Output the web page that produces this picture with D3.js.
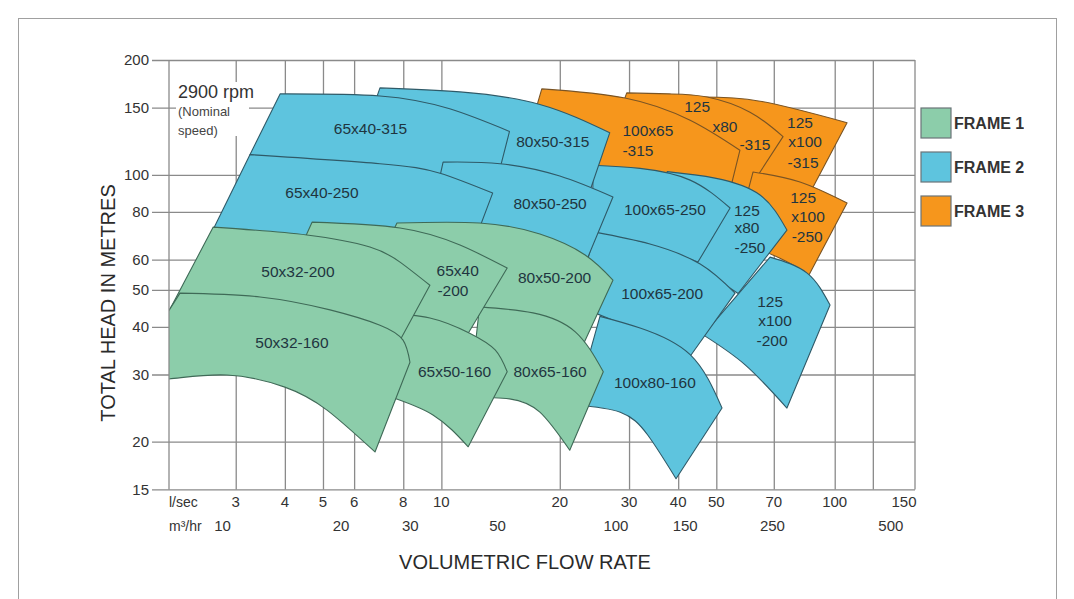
<!DOCTYPE html>
<html>
<head>
<meta charset="utf-8">
<script src="https://cdn.jsdelivr.net/npm/d3@7"></script>
<style>
  body { margin: 0; background: #fff; }
  svg { display: block; font-family: "Liberation Sans", Arial, sans-serif; }
</style>
</head>
<body>
<svg id="chart"></svg>
<script>
// flow in l/sec, head in metres
var headTicks = [15, 20, 30, 40, 50, 60, 80, 100, 150, 200];
var lsecTicks = [3, 4, 5, 6, 8, 10, 20, 30, 40, 50, 70, 100, 150];
var lsecGrid = [3, 4, 5, 6, 8, 10, 20, 30, 40, 50, 70, 100, 125];
var m3hrTicks = [10, 20, 30, 50, 100, 150, 250, 500];
var frameNames = ["FRAME 1", "FRAME 2", "FRAME 3"];
var frameFills = ["#8ccdaa", "#5ec4de", "#f6961c"];
var frameStrokes = ["#3f6a57", "#2f5a68", "#7a5424"];

// each pump: top and bottom curve, [l/sec, m], left to right; label lines [text, l/sec, m]
// listed in drawing order (later ones sit on top)
var frame3Pumps = [
  {name: "125x100-315",
   top: [[45.5, 160], [64.6, 156], [107.5, 137]],
   bottom: [[51.1, 103], [68.5, 98.1], [88.1, 93]],
   label: [["125", 81.6, 137], ["x100", 84.1, 122], ["-315", 83.1, 108]]},
  {name: "125x80-315",
   top: [[29.6, 164], [38.1, 163], [47.4, 160], [60.9, 146], [73.9, 126]],
   bottom: [[25.3, 106], [40.4, 94.1], [59.2, 88.6]],
   label: [["125", 44.7, 151], ["x80", 52.6, 134], ["-315", 62.7, 120]]},
  {name: "100x65-315",
   top: [[18, 168], [29.3, 159], [42.9, 139], [57.4, 116]],
   bottom: [[15.8, 106], [25.3, 94.1], [54.2, 91.3]],
   label: [["100x65", 33.5, 131], ["-315", 31.6, 116]]},
  {name: "125x100-250",
   top: [[62, 101.8], [81.6, 95.8], [107.5, 84.4]],
   bottom: [[55.8, 67.5], [72.6, 60.5], [86, 54.7]],
   label: [["125", 83.1, 87], ["x100", 85.5, 77.6], ["-250", 85.1, 69.1]]}
];

var frame2Pumps = [
  {name: "125x100-200",
   top: [[68.5, 60.9], [85.1, 55.3], [97.3, 45.6]],
   bottom: [[46.3, 38.1], [59.2, 31.8], [75.6, 24.5]],
   label: [["125", 68.5, 46.5], ["x100", 70.5, 41.5], ["-200", 69.3, 36.9]]},
  {name: "125x80-250",
   top: [[37.5, 102], [49.6, 98.1], [64.6, 88.6], [75.6, 71.7]],
   bottom: [[33.9, 63.5], [45.5, 56.3], [56.8, 48.9]],
   label: [["125", 59.8, 80.9], ["x80", 59.8, 72.6], ["-250", 60.9, 64.7]]},
  {name: "100x65-250",
   top: [[24.3, 106], [32, 104], [42.9, 96.9], [54.2, 81.9]],
   bottom: [[24.2, 69.6], [32, 66.7], [44.9, 59.1]],
   label: [["100x65-250", 37, 81]]},
  {name: "100x65-200",
   top: [[24.6, 70.8], [33.9, 65.9], [45.5, 58.4], [55.8, 49.0]],
   bottom: [[21.9, 45.6], [32, 38.8], [42.9, 33.5]],
   label: [["100x65-200", 36.4, 49]]},
  {name: "100x80-160",
   top: [[25.3, 42.6], [32, 39.7], [42.9, 33.8], [51.7, 24.5]],
   bottom: [[21.9, 25], [28.5, 23.9], [33.5, 20.8], [39.5, 16]],
   label: [["100x80-160", 34.9, 28.5]]},
  {name: "80x50-315",
   top: [[6.98, 169], [11.15, 165], [17.8, 153], [26.8, 129]],
   bottom: [[6.03, 109.4], [12.5, 101.8], [23.9, 91.3]],
   label: [["80x50-315", 19.2, 122]]},
  {name: "65x40-315",
   top: [[3.89, 163], [6.98, 161], [10.5, 149], [14.9, 130]],
   bottom: [[3.26, 113], [6.98, 101.8], [13.85, 96.9]],
   label: [["65x40-315", 6.6, 132]]},
  {name: "80x50-250",
   top: [[10.1, 108], [14.1, 107], [20, 99.3], [27.3, 87.5]],
   bottom: [[9.08, 65.5], [14.9, 63.5], [23.3, 59.1]],
   label: [["80x50-250", 18.9, 84]]},
  {name: "65x40-250",
   top: [[3.26, 113], [6.98, 107], [9.92, 101], [13.5, 89.6]],
   bottom: [[2.55, 67.5], [5.52, 63.5], [11.9, 63.5]],
   label: [["65x40-250", 4.97, 90]]}
];

var frame1Pumps = [
  {name: "80x50-200",
   top: [[7.71, 74.8], [12.5, 74.8], [17.8, 70], [23.2, 61.7], [27.3, 53]],
   bottom: [[6.21, 47], [16.8, 43], [22.9, 35.8]],
   label: [["80x50-200", 19.4, 54]]},
  {name: "80x65-160",
   top: [[12.5, 45.1], [17.1, 43.5], [21.9, 38.8], [25.8, 30.5]],
   bottom: [[11.8, 26.2], [14.9, 25.9], [17.8, 23.9], [21.2, 19]],
   label: [["80x65-160", 18.9, 30.5]]},
  {name: "65x40-200",
   top: [[4.69, 75.2], [7.85, 72.6], [11.15, 65.5], [14.7, 57]],
   bottom: [[3.62, 41.7], [7.85, 41.2], [11.6, 37.9]],
   label: [["65x40", 11.0, 56.3], ["-200", 10.7, 49.9]]},
  {name: "65x50-160",
   top: [[6.98, 43.5], [9.35, 42.2], [11.8, 38.5], [13.7, 34.8], [14.7, 30.5]],
   bottom: [[7.19, 26.5], [9.52, 23.5], [11.7, 19.4]],
   label: [["65x50-160", 10.8, 30.5]]},
  {name: "50x32-200",
   top: [[2.63, 73], [4.55, 69.6], [6.58, 64.7], [7.85, 59.1], [9.35, 51.4]],
   bottom: [[2.03, 44.0], [4.12, 43.7], [7.85, 36.9]],
   label: [["50x32-200", 4.32, 55.7]]},
  {name: "50x32-160",
   top: [[2.165, 49], [3.46, 47.9], [5.21, 44.3], [6.98, 40.4], [7.99, 36.9], [8.32, 32.3]],
   bottom: [[1.56, 28.9], [2.03, 29.2], [2.85, 29.9], [4.0, 27.8], [5.12, 24.2], [6.78, 18.8]],
   label: [["50x32-160", 4.17, 36.3]]}
];

var w = 1074, h = 599;
var plotL = 169, plotR = 915, plotT = 60, plotB = 489.4;

var svg = d3.select("#chart")
  .attr("width", w)
  .attr("height", h);

// outer frame of the picture
svg.append("rect")
  .attr("x", 18.5).attr("y", 18.5)
  .attr("width", 1038).attr("height", 640)
  .attr("fill", "none")
  .attr("stroke", "#a0a0a0");

var x = d3.scaleLog().domain([2.03, 160]).range([plotL, plotR]);
var y = d3.scaleLog().domain([15, 200]).range([plotB, plotT]);

// horizontal grid + head labels
var gy = svg.append("g")
  .attr("transform", "translate(" + plotR + ",0)")
  .call(d3.axisLeft(y)
    .tickValues(headTicks)
    .tickFormat(d3.format("d"))
    .tickSize(plotR - 152)
    .tickPadding(3));
gy.select(".domain").remove();
gy.attr("font-family", null).attr("font-size", null);
gy.selectAll("line").attr("stroke", "#8a8a8a").attr("stroke-width", 1.3);
gy.selectAll("text").attr("font-size", 15).attr("fill", "#333");

// vertical grid
var gx = svg.append("g")
  .attr("transform", "translate(0," + plotT + ")")
  .call(d3.axisBottom(x)
    .tickValues(lsecGrid)
    .tickSize(plotB - plotT)
    .tickFormat(""));
gx.select(".domain").remove();
gx.selectAll("line").attr("stroke", "#8a8a8a").attr("stroke-width", 1.3);

svg.append("line")
  .attr("x1", plotR).attr("x2", plotR)
  .attr("y1", plotT).attr("y2", plotB)
  .attr("stroke", "#8a8a8a").attr("stroke-width", 1.3);

// speed note
svg.append("rect")
  .attr("x", 176).attr("y", 82)
  .attr("width", 73).attr("height", 54)
  .attr("fill", "#fff");
svg.append("text")
  .attr("x", 178).attr("y", 98)
  .attr("font-size", 18).attr("fill", "#333")
  .text("2900 rpm");
svg.append("text")
  .attr("x", 178).attr("y", 116)
  .attr("font-size", 13).attr("fill", "#444")
  .text("(Nominal");
svg.append("text")
  .attr("x", 178).attr("y", 135)
  .attr("font-size", 13).attr("fill", "#444")
  .text("speed)");

// pump tiles
svg.append("clipPath").attr("id", "plot")
  .append("rect")
  .attr("x", plotL).attr("y", plotT)
  .attr("width", plotR - plotL).attr("height", plotB - plotT);

var curve = d3.line()
  .x(function(d) { return x(d[0]); })
  .y(function(d) { return y(d[1]); })
  .curve(d3.curveNatural);

function tilePath(p) {
  return curve(p.top) + curve(p.bottom.slice().reverse()).replace(/^M/, "L") + "Z";
}

var layers = [[frame3Pumps, 2], [frame2Pumps, 1], [frame1Pumps, 0]];
var tiles = svg.append("g").attr("clip-path", "url(#plot)");
layers.forEach(function(l) {
  tiles.append("g")
    .selectAll("path")
    .data(l[0])
    .enter()
    .append("path")
    .attr("d", tilePath)
    .attr("fill", frameFills[l[1]])
    .attr("stroke", frameStrokes[l[1]])
    .attr("stroke-width", 1.1)
    .attr("stroke-linejoin", "round");
});

// left edge of plot sits over the tiles
svg.append("line")
  .attr("x1", plotL).attr("x2", plotL)
  .attr("y1", plotT).attr("y2", plotB)
  .attr("stroke", "#8a8a8a").attr("stroke-width", 1.3);

// pump labels
var allLabels = [];
frame3Pumps.concat(frame2Pumps, frame1Pumps).forEach(function(p) {
  p.label.forEach(function(l) { allLabels.push(l); });
});
svg.append("g")
  .selectAll("text")
  .data(allLabels)
  .enter()
  .append("text")
  .attr("x", function(d) { return x(d[1]); })
  .attr("y", function(d) { return y(d[2]); })
  .attr("text-anchor", "middle")
  .attr("dominant-baseline", "central")
  .attr("font-size", 15.5)
  .attr("fill", "#1f3540")
  .text(function(d) { return d[0]; });

// flow labels
svg.append("text")
  .attr("x", plotL).attr("y", 507)
  .attr("font-size", 14).attr("fill", "#333")
  .text("l/sec");
svg.append("g")
  .selectAll("text")
  .data(lsecTicks)
  .enter()
  .append("text")
  .attr("x", function(d) { return x(d); })
  .attr("y", 507)
  .attr("text-anchor", "middle")
  .attr("font-size", 15).attr("fill", "#333")
  .text(function(d) { return d; });

svg.append("text")
  .attr("x", plotL).attr("y", 531)
  .attr("font-size", 14).attr("fill", "#333")
  .text("m³/hr");
svg.append("g")
  .selectAll("text")
  .data(m3hrTicks)
  .enter()
  .append("text")
  .attr("x", function(d) { return x(d / 3.6); })
  .attr("y", 531)
  .attr("text-anchor", "middle")
  .attr("font-size", 15).attr("fill", "#333")
  .text(function(d) { return d; });

// axis titles
svg.append("text")
  .attr("x", 525).attr("y", 569)
  .attr("text-anchor", "middle")
  .attr("font-size", 20).attr("fill", "#2a2a2a")
  .text("VOLUMETRIC FLOW RATE");
svg.append("text")
  .attr("transform", "translate(115,303) rotate(-90)")
  .attr("text-anchor", "middle")
  .attr("font-size", 20).attr("fill", "#2a2a2a")
  .text("TOTAL HEAD IN METRES");

// legend
svg.append("clipPath").attr("id", "legclip")
  .append("rect").attr("x", 900).attr("y", 90).attr("width", 124).attr("height", 160);
var leg = svg.append("g").attr("clip-path", "url(#legclip)")
  .selectAll("g")
  .data(frameNames)
  .enter()
  .append("g")
  .attr("transform", function(d, i) { return "translate(921," + (108 + i * 44) + ")"; });
leg.append("rect")
  .attr("width", 30).attr("height", 30)
  .attr("fill", function(d, i) { return frameFills[i]; })
  .attr("stroke", "#6b7478")
  .attr("stroke-width", 1.2);
leg.append("text")
  .attr("x", 33).attr("y", 21)
  .attr("font-size", 16).attr("font-weight", "bold")
  .attr("fill", "#333")
  .text(function(d) { return d; });
</script>
</body>
</html>
